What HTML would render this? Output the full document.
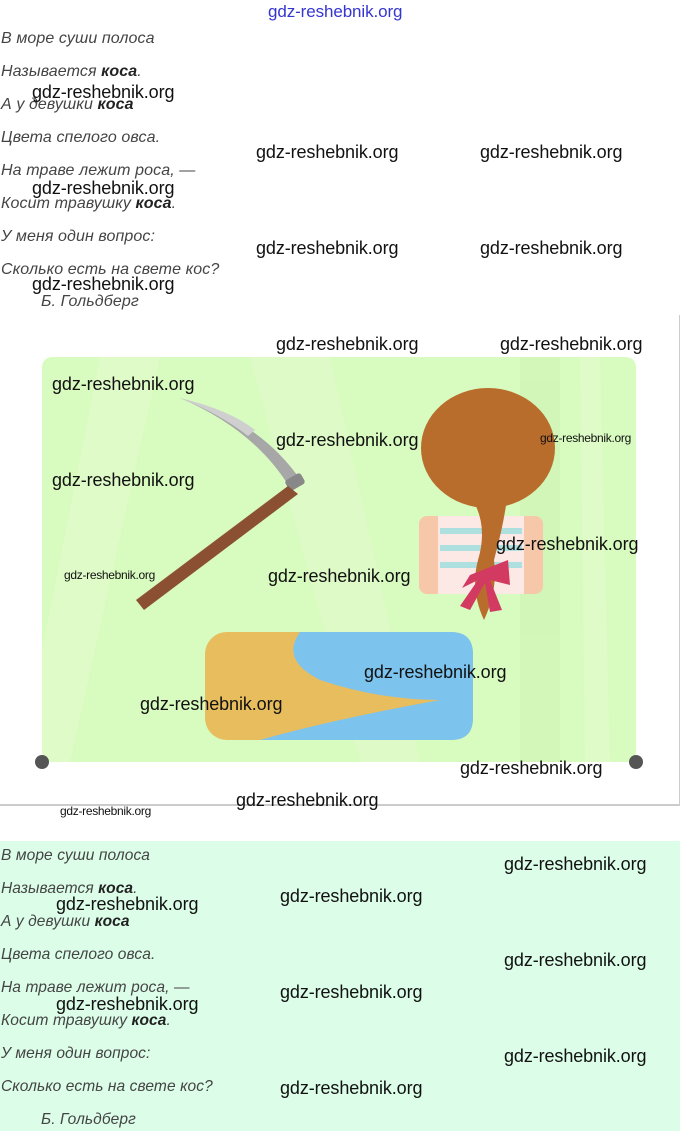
<!DOCTYPE html>
<html><head><meta charset="utf-8"><style>
body{margin:0;width:680px;height:1131px;position:relative;background:#fff;overflow:hidden;font-family:"Liberation Sans",sans-serif}
.p,.q{position:absolute;left:1px;font-style:italic;font-size:16px;color:#444;white-space:nowrap;line-height:18px;letter-spacing:0.1px}
.q{transform:scaleX(.97);transform-origin:left}
.p b,.q b{color:#222}
.w{position:absolute;font-size:18px;color:#111;white-space:nowrap;line-height:18px;letter-spacing:-0.1px}
.s{position:absolute;font-size:12px;color:#111;white-space:nowrap;line-height:12px;letter-spacing:-0.3px}
</style></head><body>
<div style="position:absolute;left:0;top:315px;width:679px;height:489px;border-right:2px solid #ccc;border-bottom:2px solid #ccc"></div>
<div style="position:absolute;left:0;top:841px;width:680px;height:290px;background:#dcfde8"></div>
<svg style="position:absolute;left:0;top:0" width="680" height="1131">
<defs><clipPath id="c"><rect x="42" y="357" width="594" height="405" rx="10"/></clipPath></defs>
<rect x="42" y="357" width="594" height="405" rx="10" fill="#d8fbbf"/>
<g clip-path="url(#c)" opacity=".5">
<polygon points="100,357 160,357 70,762 20,762" fill="#e6fcd2"/>
<polygon points="520,357 560,357 560,762 520,762" fill="#cdf3b3"/>
<polygon points="580,357 600,357 610,762 585,762" fill="#e6fcd2"/>
<polygon points="250,357 330,357 420,762 360,762" fill="#e3fccf"/>
</g>
<path d="M180,398 Q260,420 302,482 L290,488 Q255,430 180,398Z" fill="#a7a7a7"/>
<path d="M180,398 Q230,410 255,430 L248,436 Q220,414 180,398Z" fill="#cfcfcf"/>
<rect x="286" y="476" width="18" height="12" rx="3" fill="#888" transform="rotate(-30 295 482)"/>
<polygon points="288,486 298,494 144,610 136,600" fill="#8b5032"/>
<rect x="205" y="632" width="268" height="108" rx="22" fill="#e8bd5e"/>
<path d="M300,632 L451,632 Q473,632 473,654 L473,718 Q473,740 451,740 L260,740 Q330,720 440,700 Q380,700 320,680 Q280,660 300,632Z" fill="#7cc3ee"/>
<rect x="419" y="516" width="124" height="78" rx="8" fill="#f6c7a8"/>
<rect x="438" y="516" width="86" height="78" fill="#fce9e6"/>
<rect x="440" y="528" width="82" height="6" fill="#aee0e0"/>
<rect x="440" y="545" width="82" height="6" fill="#aee0e0"/>
<rect x="440" y="562" width="82" height="6" fill="#aee0e0"/>
<ellipse cx="488" cy="448" rx="67" ry="60" fill="#b96d2c"/>
<path d="M466,490 Q490,520 478,560 Q470,590 484,620 Q498,590 494,560 Q505,520 508,490Z" fill="#b96d2c"/>
<path d="M470,575 L508,560 L510,585 L490,580 L502,610 L490,612 L485,583 L470,610 L460,606 L478,580 L462,588Z" fill="#d33a62"/>
<circle cx="42" cy="762" r="7" fill="#555"/><circle cx="636" cy="762" r="7" fill="#555"/>
</svg>
<div class="w" style="left:268px;top:3px;color:#3535d0;font-size:17px">gdz-reshebnik.org</div>
<div class="p" style="top:30px">В море суши полоса</div>
<div class="p" style="top:63px">Называется <b>коса</b>.</div>
<div class="p" style="top:96px">А у девушки <b>коса</b></div>
<div class="p" style="top:129px">Цвета спелого овса.</div>
<div class="p" style="top:162px">На траве лежит роса, —</div>
<div class="p" style="top:195px">Косит травушку <b>коса</b>.</div>
<div class="p" style="top:228px">У меня один вопрос:</div>
<div class="p" style="top:261px">Сколько есть на свете кос?</div>
<div class="p" style="top:293px;left:41px">Б. Гольдберг</div>
<div class="w" style="left:32px;top:83px">gdz-reshebnik.org</div>
<div class="w" style="left:32px;top:179px">gdz-reshebnik.org</div>
<div class="w" style="left:32px;top:275px">gdz-reshebnik.org</div>
<div class="w" style="left:256px;top:143px">gdz-reshebnik.org</div>
<div class="w" style="left:480px;top:143px">gdz-reshebnik.org</div>
<div class="w" style="left:256px;top:239px">gdz-reshebnik.org</div>
<div class="w" style="left:480px;top:239px">gdz-reshebnik.org</div>
<div class="w" style="left:276px;top:335px">gdz-reshebnik.org</div>
<div class="w" style="left:500px;top:335px">gdz-reshebnik.org</div>
<div class="w" style="left:52px;top:375px">gdz-reshebnik.org</div>
<div class="w" style="left:276px;top:431px">gdz-reshebnik.org</div>
<div class="s" style="left:540px;top:432px">gdz-reshebnik.org</div>
<div class="w" style="left:52px;top:471px">gdz-reshebnik.org</div>
<div class="w" style="left:496px;top:535px">gdz-reshebnik.org</div>
<div class="s" style="left:64px;top:569px">gdz-reshebnik.org</div>
<div class="w" style="left:268px;top:567px">gdz-reshebnik.org</div>
<div class="w" style="left:364px;top:663px">gdz-reshebnik.org</div>
<div class="w" style="left:140px;top:695px">gdz-reshebnik.org</div>
<div class="w" style="left:460px;top:759px">gdz-reshebnik.org</div>
<div class="w" style="left:236px;top:791px">gdz-reshebnik.org</div>
<div class="s" style="left:60px;top:805px">gdz-reshebnik.org</div>
<div class="q" style="top:847px">В море суши полоса</div>
<div class="q" style="top:880px">Называется <b>коса</b>.</div>
<div class="q" style="top:913px">А у девушки <b>коса</b></div>
<div class="q" style="top:946px">Цвета спелого овса.</div>
<div class="q" style="top:979px">На траве лежит роса, —</div>
<div class="q" style="top:1012px">Косит травушку <b>коса</b>.</div>
<div class="q" style="top:1045px">У меня один вопрос:</div>
<div class="q" style="top:1078px">Сколько есть на свете кос?</div>
<div class="q" style="top:1111px;left:41px">Б. Гольдберг</div>
<div class="w" style="left:56px;top:895px">gdz-reshebnik.org</div>
<div class="w" style="left:56px;top:995px">gdz-reshebnik.org</div>
<div class="w" style="left:280px;top:887px">gdz-reshebnik.org</div>
<div class="w" style="left:280px;top:983px">gdz-reshebnik.org</div>
<div class="w" style="left:280px;top:1079px">gdz-reshebnik.org</div>
<div class="w" style="left:504px;top:855px">gdz-reshebnik.org</div>
<div class="w" style="left:504px;top:951px">gdz-reshebnik.org</div>
<div class="w" style="left:504px;top:1047px">gdz-reshebnik.org</div>
</body></html>
